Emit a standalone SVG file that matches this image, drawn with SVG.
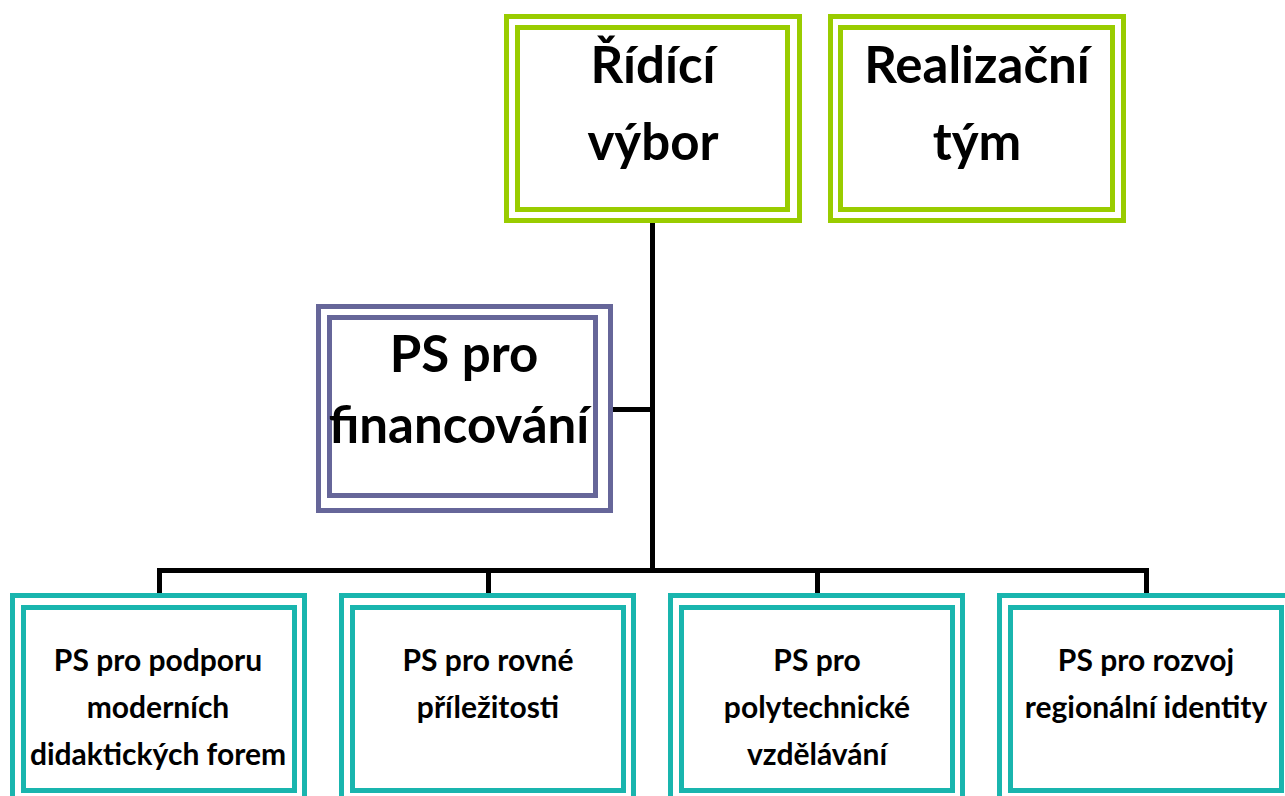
<svg xmlns="http://www.w3.org/2000/svg" width="1285" height="796" viewBox="0 0 1285 796">
<style>
.g{fill:#fff;stroke:#99CC00;stroke-width:5}
.gi{fill:none;stroke:#99CC00;stroke-width:5}
.p{fill:#fff;stroke:#666699;stroke-width:5}
.pi{fill:none;stroke:#666699;stroke-width:5}
.t{fill:#fff;stroke:#19B5AE;stroke-width:5}
.ti{fill:none;stroke:#19B5AE;stroke-width:5}
.big{font-family:Lato,"Liberation Sans",sans-serif;font-weight:bold;font-size:51px;fill:#000;text-anchor:middle}
.sm{font-family:Lato,"Liberation Sans",sans-serif;font-weight:bold;font-size:30px;fill:#000;text-anchor:middle}
.c{fill:none;stroke:#000;stroke-width:5}
</style>
<rect width="1285" height="796" fill="#fff"/>
<g id="connectors">
<path class="c" d="M652.5 223V570.5M613 409.5H652.5M159.5 593V570.5H1146.5V593M488.5 570.5V593M817.5 570.5V593"/>
</g>
<g id="ridici">
<rect class="g" x="506.5" y="16.5" width="293" height="204"/>
<rect class="gi" x="517.5" y="27.5" width="270" height="182"/>
<text class="big" x="653" y="83">Řídící</text>
<text class="big" x="653" y="160">výbor</text>
</g>
<g id="realizacni">
<rect class="g" x="830.5" y="16.5" width="293" height="204"/>
<rect class="gi" x="840.5" y="27.5" width="272" height="182"/>
<text class="big" x="977" y="83">Realizační</text>
<text class="big" x="977" y="160">tým</text>
</g>
<g id="financovani">
<rect class="p" x="318.5" y="306.5" width="292" height="204"/>
<rect class="pi" x="329.5" y="317.5" width="266" height="178"/>
<text class="big" x="464" y="372">PS pro</text>
<text class="big" x="459" y="443">financování</text>
</g>
<g id="didakticke">
<rect class="t" x="12.5" y="595.5" width="292" height="210"/>
<rect class="ti" x="23.5" y="607.5" width="271" height="183"/>
<text class="sm" x="158" y="671">PS pro podporu</text>
<text class="sm" x="158" y="718">moderních</text>
<text class="sm" x="158" y="765">didaktických forem</text>
</g>
<g id="rovne">
<rect class="t" x="341.5" y="595.5" width="292" height="210"/>
<rect class="ti" x="352.5" y="607.5" width="271" height="183"/>
<text class="sm" x="488" y="671">PS pro rovné</text>
<text class="sm" x="488" y="718">příležitosti</text>
</g>
<g id="polytechnicke">
<rect class="t" x="670.5" y="595.5" width="292" height="210"/>
<rect class="ti" x="681.5" y="607.5" width="271" height="183"/>
<text class="sm" x="817" y="671">PS pro</text>
<text class="sm" x="817" y="718">polytechnické</text>
<text class="sm" x="817" y="765">vzdělávání</text>
</g>
<g id="regionalni">
<rect class="t" x="999.5" y="595.5" width="292" height="210"/>
<rect class="ti" x="1010.5" y="607.5" width="271" height="183"/>
<text class="sm" x="1146" y="671">PS pro rozvoj</text>
<text class="sm" x="1146" y="718">regionální identity</text>
</g>
</svg>
